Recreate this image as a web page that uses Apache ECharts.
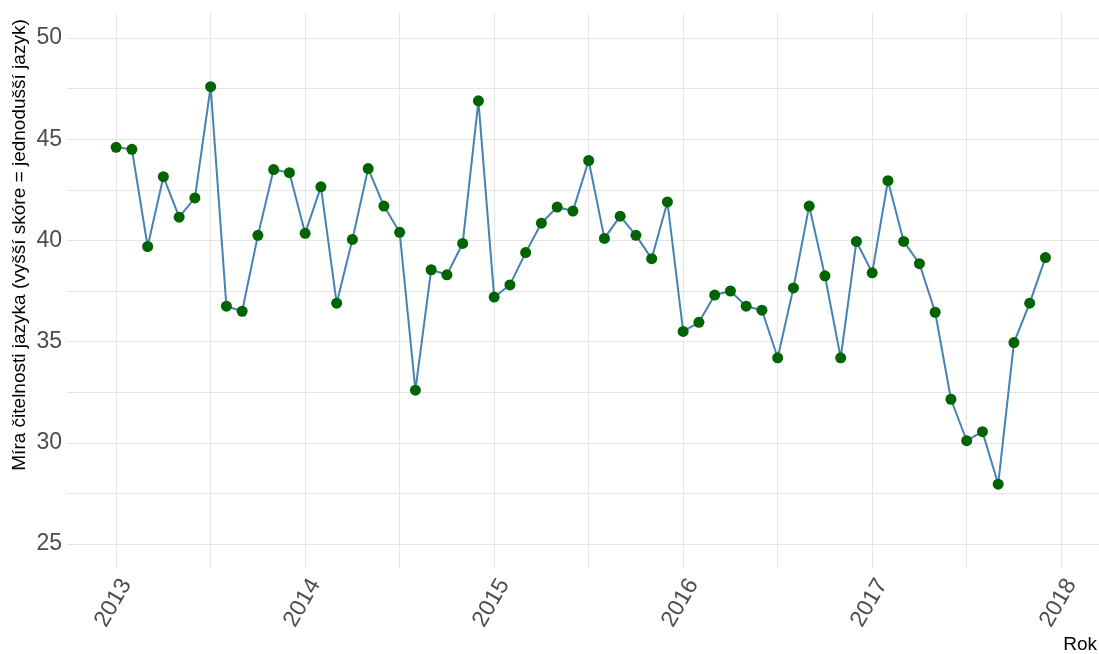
<!DOCTYPE html>
<html>
<head>
<meta charset="utf-8">
<script src="https://cdn.jsdelivr.net/npm/echarts@6/dist/echarts.min.js"></script>
<style>
  html, body { margin: 0; padding: 0; background: #fff; }
  #chart { width: 1099px; height: 654px; }
</style>
</head>
<body>
<div id="chart"></div>
<script>
// monthly readability score, Jan 2013 .. Dec 2017
const startYear = 2013
const scores = [
  44.6, 44.5, 39.7, 43.15, 41.15, 42.1, 47.6, 36.75, 36.5, 40.25, 43.5, 43.35,
  40.35, 42.65, 36.9, 40.05, 43.55, 41.7, 40.4, 32.6, 38.55, 38.3, 39.85, 46.9,
  37.2, 37.8, 39.4, 40.85, 41.65, 41.45, 43.95, 40.1, 41.2, 40.25, 39.1, 41.9,
  35.5, 35.95, 37.3, 37.5, 36.75, 36.55, 34.2, 37.65, 41.7, 38.25, 34.2, 39.95,
  38.4, 42.95, 39.95, 38.85, 36.45, 32.15, 30.1, 30.55, 27.95, 34.95, 36.9, 39.15
]
const yearTicks = [2013, 2014, 2015, 2016, 2017, 2018]
const xGridValues = [2013, 2013.5, 2014, 2014.5, 2015, 2015.5, 2016, 2016.5, 2017, 2017.5, 2018]
const yTicks = [25, 30, 35, 40, 45, 50]
const yGridValues = [25, 27.5, 30, 32.5, 35, 37.5, 40, 42.5, 45, 47.5, 50]

// x position of each month as a fractional year
const points = scores.map((v, i) => [startYear + i / 12, v])

const font = 'Liberation Sans, Arial, sans-serif'
const chart = echarts.init(document.getElementById('chart'))

const option = {
  animation: false,
  grid: {
    left: 67,
    right: 0,
    top: 13,
    bottom: 86
  },
  xAxis: {
    type: 'value',
    min: 2012.74,
    max: 2018.2,
    axisLine: { show: false },
    axisTick: { show: false, customValues: xGridValues },
    splitLine: { show: true, lineStyle: { color: '#e5e5e5', width: 1 } },
    axisLabel: {
      customValues: yearTicks,
      rotate: 60,
      margin: 7,
      verticalAlign: 'top',
      fontSize: 23,
      color: '#4d4d4d',
      fontFamily: font,
      formatter: (v) => String(Math.round(v))
    }
  },
  yAxis: {
    type: 'value',
    min: 23.81,
    max: 51.24,
    axisLine: { show: false },
    axisTick: { show: false, customValues: yGridValues },
    splitLine: { show: true, lineStyle: { color: '#e5e5e5', width: 1 } },
    axisLabel: {
      customValues: yTicks,
      margin: 5,
      fontSize: 23,
      color: '#4d4d4d',
      fontFamily: font
    }
  },
  graphic: [
    {
      type: 'text',
      x: 20,
      y: 245,
      rotation: Math.PI / 2,
      style: {
        text: 'Míra čitelnosti jazyka (vyšší skóre = jednodušší jazyk)',
        fontSize: 19,
        fill: '#000',
        fontFamily: font,
        align: 'center',
        verticalAlign: 'middle'
      }
    },
    {
      type: 'text',
      right: 2,
      bottom: 0,
      style: {
        text: 'Rok',
        fontSize: 19,
        fill: '#000',
        fontFamily: font
      }
    }
  ],
  series: [
    {
      type: 'line',
      data: points,
      symbol: 'circle',
      symbolSize: 11,
      showAllSymbol: true,
      lineStyle: { color: '#4682B4', width: 2 },
      itemStyle: { color: '#006400', borderWidth: 0 }
    }
  ]
}

chart.setOption(option)
</script>
</body>
</html>
